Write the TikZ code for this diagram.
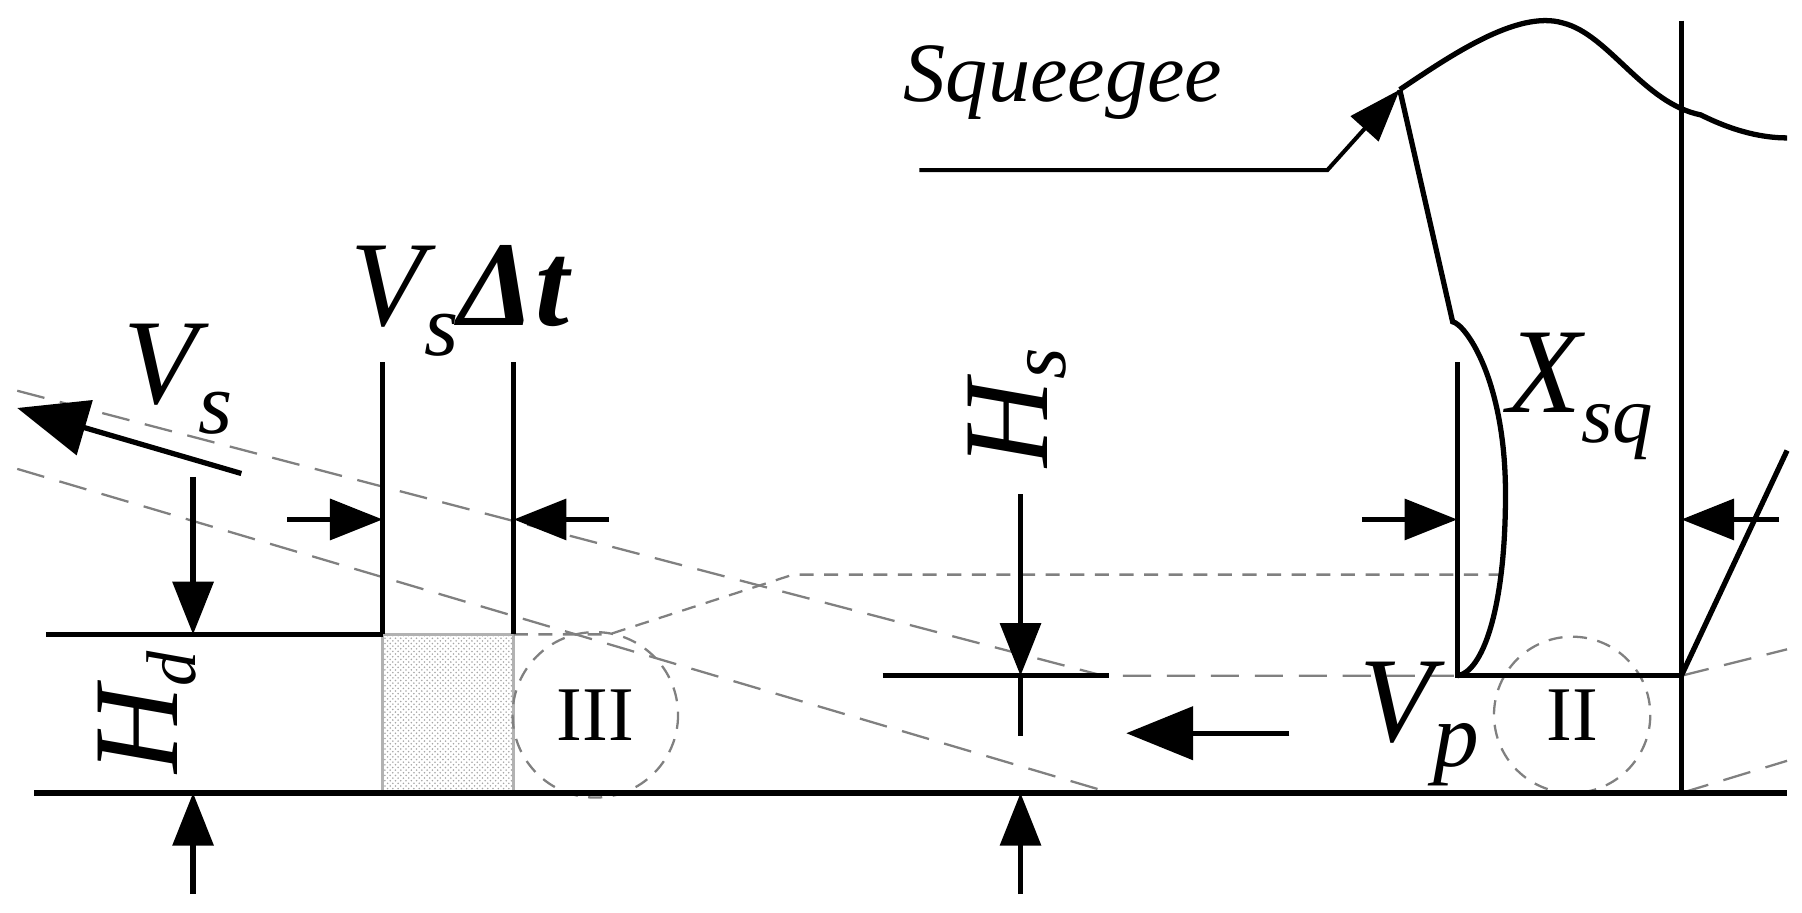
\documentclass[tikz,border=0pt]{standalone}
\usepackage{fontspec}
\setmainfont{Liberation Serif}
\usetikzlibrary{arrows.meta,patterns}
\begin{document}
\begin{tikzpicture}[x=0.02298cm,y=-0.02298cm,
  thick/.style={line width=3pt},
  thin/.style={line width=1.8pt},
  dsh/.style={draw=gray,line width=1.3pt,dash pattern=on 16pt off 9pt},
  dsh2/.style={draw=gray,line width=1.3pt,dash pattern=on 8pt off 6pt},
  arr/.style={thick,-{Triangle[length=30pt,width=23pt]}},
  big/.style={font=\fontsize{69}{76}\selectfont\itshape,inner sep=0},
  rom/.style={font=\fontsize{44}{48}\selectfont,inner sep=0}]
\useasboundingbox (0,0) rectangle (1568,794);
% shaded block
\fill[pattern=crosshatch dots,pattern color=gray!70] (333,552) rectangle (447,690);
\draw[thin,gray!60] (333,552) rectangle (447,690);
% dashed construction lines
\coordinate (u0) at (15,340); \coordinate (u1) at (960,588);
\coordinate (l0) at (15,408); \coordinate (l1) at (960,688);
\draw[dsh] (u0) -- (u1) -- (1265,588);
\draw[dsh] (l0) -- (l1);
\draw[dsh2] (447,552) -- (530,552) -- (690,500) -- (1310,500);
\draw[dsh] (1463,588) -- (1555,565);
\draw[dsh] (1463,690) -- (1555,662);
\draw[dsh2] (518,622) circle (72);
\draw[dsh2] (1368,622) circle (68);
\node[rom] (c3) at (518,622) {III};
\node[rom] (c2) at (1368,622) {II};
% baseline and deposit
\draw[thick] (30,690) -- (1555,690);
\draw[thick] (40,552) -- (333,552);
\draw[thick] (333,315) -- (333,552);
\draw[thick] (447,315) -- (447,552);
% VsDt arrows
\coordinate (a1) at (250,452); \coordinate (a1e) at (333,452);
\coordinate (a2) at (530,452); \coordinate (a2e) at (447,452);
\draw[arr] (a1) -- (a1e);
\draw[arr] (a2) -- (a2e);
% Hd arrows
\coordinate (h1) at (168,415); \coordinate (h1e) at (168,552);
\coordinate (h2) at (168,778); \coordinate (h2e) at (168,690);
\draw[arr] (h1) -- (h1e);
\draw[arr] (h2) -- (h2e);
\node[big,rotate=90] (hd) at (128,620) {H\raisebox{-0.15em}{\fontsize{40}{44}\selectfont d}};
% Vs arrow
\coordinate (v1) at (210,412); \coordinate (v1e) at (15,355);
\draw[thick,-{Triangle[length=40pt,width=32pt]}] (v1) -- (v1e);
\node[big] (vs) at (155,330) {V\raisebox{-0.25em}{\fontsize{50}{54}\selectfont s}};
\node[big] (vsdt) at (400,262) {V\raisebox{-0.25em}{\fontsize{50}{54}\selectfont s}\textbf{Δt}};
% Hs
\draw[thick] (768,588) -- (965,588);
\coordinate (s1) at (888,430); \coordinate (s1e) at (888,588);
\draw[arr] (s1) -- (s1e);
\draw[thick] (888,588) -- (888,640);
\coordinate (s2) at (888,778); \coordinate (s2e) at (888,690);
\draw[arr] (s2) -- (s2e);
\node[big,rotate=90] (hs) at (885,355) {H\raisebox{-0.15em}{\fontsize{46}{50}\selectfont s}};
% Vp
\coordinate (p1) at (1122,638); \coordinate (p1e) at (980,638);
\draw[thick,-{Triangle[length=38pt,width=30pt]}] (p1) -- (p1e);
\node[big] (vp) at (1235,630) {V\raisebox{-0.2em}{\fontsize{52}{56}\selectfont p}};
% squeegee
\draw[thick] (1463,18) -- (1463,690);
\draw[thick] (1268,315) -- (1268,588) -- (1463,588);
\draw[thick] (1218,78) -- (1264,280) .. controls (1275,282) and (1310,330) .. (1310,430)
   .. controls (1310,530) and (1290,585) .. (1268,588);
\draw[thick] (1218,78) .. controls (1260,50) and (1320,8) .. (1360,20)
   .. controls (1400,30) and (1430,90) .. (1480,100) .. controls (1510,115) and (1535,120) .. (1555,120);
\draw[thick] (1463,588) -- (1555,392);
\coordinate (x1) at (1185,452); \coordinate (x1e) at (1268,452);
\coordinate (x2) at (1548,452); \coordinate (x2e) at (1463,452);
\draw[arr] (x1) -- (x1e);
\draw[arr] (x2) -- (x2e);
\node[big] (xsq) at (1375,345) {X\raisebox{-0.25em}{\fontsize{46}{50}\selectfont sq}};
\node[font=\fontsize{48}{52}\selectfont\itshape,inner sep=0] (sq) at (925,72) {Squeegee};
\coordinate (q0) at (800,148); \coordinate (q1) at (1155,148); \coordinate (qt) at (1218,78);
\draw[line width=2.3pt,-{Triangle[length=30pt,width=21pt]}] (q0) -- (q1) -- (qt);
\end{tikzpicture}
\end{document}
